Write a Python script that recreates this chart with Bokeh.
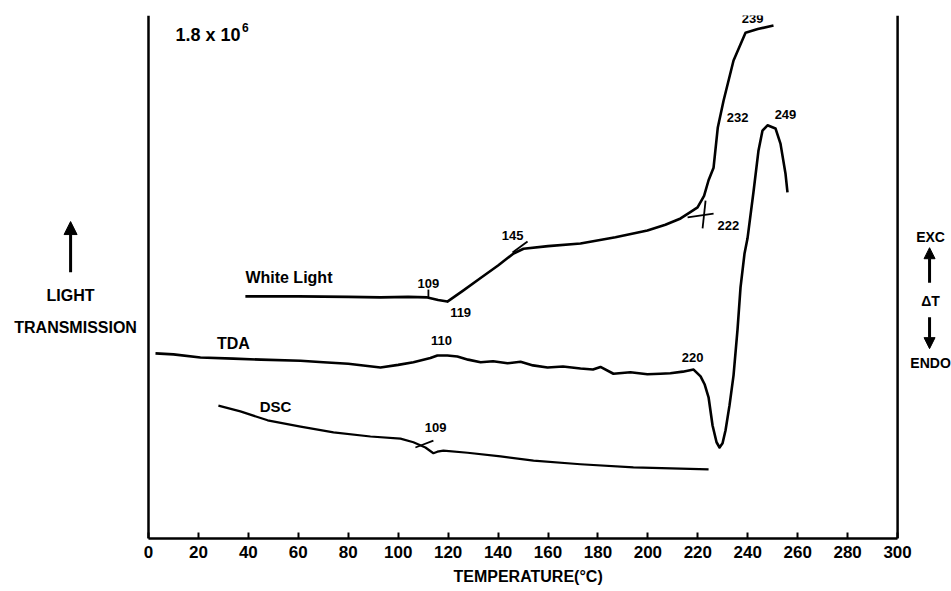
from bokeh.plotting import figure
from bokeh.models import Range1d, FixedTicker, Label, Arrow, NormalHead, Span, Title
from bokeh.embed import file_html
from bokeh.resources import INLINE

# ---------------- data (temperature in deg C, signal in arbitrary units) ----------------
wl_t = [38.8, 60, 80, 92.9, 104, 111.7, 116, 119.7, 126, 133, 140, 146.2, 150.2, 160, 173,
        187, 199.8, 207, 213.1, 217, 219.9, 222.5, 224.3, 226.3, 228, 230.3, 234.3, 239.1,
        244, 250.3]
wl_v = [46.3, 46.3, 46.2, 46.1, 46.2, 46.1, 45.6, 45.3, 47.4, 49.8, 52.2, 54.5, 55.4, 55.9, 56.4,
        57.6, 58.9, 60.0, 61.2, 62.4, 63.3, 65.5, 68.5, 70.9, 78.6, 83.7, 91.4, 96.7,
        97.4, 98.1]

tda_t = [2.8, 10, 20.8, 34, 45, 60.9, 70, 80, 92.9, 100, 106.1, 112.9, 115.7, 119.7, 123.7,
         128, 133.0, 138, 143.8, 149, 154, 159.8, 166, 173.0, 178, 181, 186.2, 193, 199.8,
         205, 209, 214, 218.3, 221.1, 222.7, 224.3, 225.9, 227.5, 228.7, 229.9, 231.1, 232.7,
         234.3, 235.9, 237.1, 238.7, 239.9, 242.3, 244.3, 245.9, 247.9, 251.1, 253.1, 255.1,
         255.9]
tda_v = [35.4, 35.2, 34.6, 34.4, 34.2, 34.0, 33.7, 33.4, 32.7, 33.2, 33.7, 34.5, 35.0, 35.0, 34.8,
         34.2, 33.7, 33.9, 33.5, 33.8, 33.1, 32.7, 32.9, 32.5, 32.3, 32.8, 31.5, 31.8, 31.4,
         31.5, 31.6, 31.9, 32.3, 31.0, 29.5, 27.0, 21.6, 18.4, 17.4, 18.2, 20.7, 25.5,
         31.2, 40.0, 48.0, 54.5, 57.4, 66.3, 74.2, 78.0, 79.0, 78.4, 75.5, 69.8,
         66.2]

dsc_t = [28.0, 36.8, 47.7, 60.9, 74.1, 88.9, 100.9, 106.1, 110.9, 114.1, 115.7, 118.1, 127.8,
         141, 154.2, 173, 194.2, 224.3]
dsc_v = [25.4, 24.3, 22.6, 21.4, 20.3, 19.5, 19.1, 18.4, 17.4, 16.3, 16.6, 16.8, 16.4,
         15.7, 14.9, 14.2, 13.6, 13.2]

# small transition markers drawn across the curves (x0, y0, x1, y1)
mark_x0 = [112.1, 145.8, 215.9, 223.1, 106.9]
mark_y0 = [46.1, 54.7, 61.4, 64.6, 17.4]
mark_x1 = [112.1, 151.8, 226.3, 221.9, 114.1]
mark_y1 = [47.6, 56.8, 62.1, 59.3, 18.7]

x_ticks = list(range(0, 301, 20))

# transition-temperature annotations: (text, T, signal)
notes = [("109", 112.1, 48.8), ("119", 125.0, 43.2), ("145", 145.8, 57.9),
         ("232", 235.9, 80.5), ("239", 241.9, 99.4), ("249", 255.1, 81.1),
         ("110", 117.3, 37.9), ("220", 217.9, 34.6), ("109", 115.0, 21.2)]

FONT = "Liberation Sans"

p = figure(width=951, height=591, output_backend="svg", toolbar_location=None,
           x_range=Range1d(-59.27, 321.59), y_range=Range1d(0, 100),
           y_axis_location=None,
           min_border_left=0, min_border_right=0, min_border_top=15, min_border_bottom=53,
           background_fill_color="white", border_fill_color="white")
p.grid.visible = False
p.outline_line_color = None

# bottom axis
xa = p.xaxis[0]
xa.bounds = (0, 300)
xa.ticker = FixedTicker(ticks=x_ticks)
xa.major_tick_in = 6
xa.major_tick_out = 0
xa.minor_tick_line_color = None
xa.axis_line_width = 2.5
xa.major_tick_line_width = 2
xa.major_label_text_font = FONT
xa.major_label_text_font_style = "bold"
xa.major_label_text_font_size = "17px"
xa.major_label_text_color = "black"
xa.major_label_standoff = 7

# axis title, placed under the 0-300 span
p.add_layout(Title(text="TEMPERATURE(°C)", align="left", offset=453, standoff=11,
                   text_font=FONT, text_font_style="bold", text_font_size="16px",
                   text_color="black"), "below")

# vertical frame lines at 0 and 300 deg C
p.add_layout(Span(location=0, dimension="height", line_color="black", line_width=2.5))
p.add_layout(Span(location=300, dimension="height", line_color="black", line_width=2.5))

# curves
p.line(wl_t, wl_v, line_color="black", line_width=2.6, line_join="round")
p.line(tda_t, tda_v, line_color="black", line_width=2.6, line_join="round")
p.line(dsc_t, dsc_v, line_color="black", line_width=2.2, line_join="round")
p.segment(mark_x0, mark_y0, mark_x1, mark_y1, line_color="black", line_width=1.8)

def lab(text, x, y, size="13px", align="center", baseline="middle"):
    p.add_layout(Label(x=x, y=y, text=text, text_font=FONT, text_font_style="bold",
                       text_font_size=size, text_align=align, text_baseline=baseline,
                       text_color="black"))

for t, x, y in notes:
    lab(t, x, y)
lab("222", 227.9, 59.8, align="left")

lab("White Light", 38.8, 49.9, size="16px", align="left")
lab("TDA", 34.0, 37.3, size="16px")
lab("DSC", 50.9, 25.2, size="15px")
lab("1.8 x 10", 10.8, 96.2, size="18px", align="left")
lab("6", 37.4, 97.8, size="12px", align="left")

# left side
lab("LIGHT", -31.2, 46.5, size="16px")
lab("TRANSMISSION", -29.2, 40.3, size="16px")
p.add_layout(Arrow(end=NormalHead(size=13, fill_color="black", line_color="black"),
                   x_start=-31.2, y_start=50.9, x_end=-31.2, y_end=60.6,
                   line_width=3, line_color="black"))

# right side
lab("EXC", 313.2, 57.6, size="14px")
lab("ΔT", 313.2, 45.5, size="14px")
lab("ENDO", 313.2, 33.5, size="14px")
p.add_layout(Arrow(end=NormalHead(size=11, fill_color="black", line_color="black"),
                   x_start=312.8, y_start=48.9, x_end=312.8, y_end=55.6,
                   line_width=3, line_color="black"))
p.add_layout(Arrow(end=NormalHead(size=11, fill_color="black", line_color="black"),
                   x_start=312.8, y_start=42.3, x_end=312.8, y_end=36.3,
                   line_width=3, line_color="black"))

open("out.html", "w").write(file_html(p, INLINE))
